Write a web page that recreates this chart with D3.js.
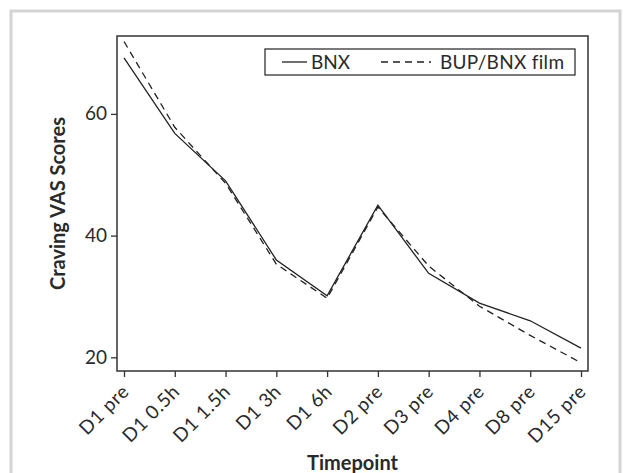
<!DOCTYPE html>
<html>
<head>
<meta charset="utf-8">
<script src="https://cdn.jsdelivr.net/npm/d3@7"></script>
<style>
  body { margin: 0; background: #fff; }
  text { font-family: Lato, "Open Sans", sans-serif; fill: #2a2a2a; }
</style>
</head>
<body>
<div id="chart"></div>
<script>
let timepoints = ["D1 pre", "D1 0.5h", "D1 1.5h", "D1 3h", "D1 6h", "D2 pre", "D3 pre", "D4 pre", "D8 pre", "D15 pre"]
let bnx = [69.2, 56.8, 49.0, 36.0, 30.1, 45.0, 33.8, 28.9, 26.0, 21.5]
let bupFilm = [71.9, 57.8, 48.6, 35.3, 29.7, 44.7, 35.0, 28.4, 23.6, 19.1]
let yTicks = [20, 40, 60]

// plot box in page pixels
var margin = {top: 36, right: 35, bottom: 102, left: 117},
    width = 623 - margin.left - margin.right,
    height = 473 - margin.top - margin.bottom;

var svg = d3.select("#chart")
  .append("svg")
    .attr("width", 623)
    .attr("height", 473)

// light grey outer frame
svg.append("rect")
  .attr("x", 11).attr("y", 11)
  .attr("width", 609).attr("height", 480)
  .attr("fill", "none")
  .attr("stroke", "#d4d4d4")
  .attr("stroke-width", 3)

var g = svg.append("g")
  .attr("transform", `translate(${margin.left}, ${margin.top})`)

var x = d3.scalePoint()
  .domain(timepoints)
  .range([7, width - 7])

var y = d3.scaleLinear()
  .domain([17.75, 72.8])
  .range([height, 0])

g.append("rect")
  .attr("width", width)
  .attr("height", height)
  .attr("fill", "none")
  .attr("stroke", "#333")
  .attr("stroke-width", 1.5)

let yAxis = g.append("g")
  .call(d3.axisLeft(y).tickValues(yTicks).tickSize(6).tickPadding(4))
yAxis.select(".domain").remove()
yAxis.selectAll("line").attr("stroke", "#333").attr("stroke-width", 1.3)
yAxis.selectAll("text").style("font-size", "19px").attr("fill", "#2a2a2a")

let xAxis = g.append("g")
  .attr("transform", `translate(0, ${height})`)
  .call(d3.axisBottom(x).tickSize(6).tickPadding(10))
xAxis.select(".domain").remove()
xAxis.selectAll("line").attr("stroke", "#333").attr("stroke-width", 1.3)
xAxis.selectAll("text")
  .style("font-size", "19px")
  .style("letter-spacing", "0.6px")
  .attr("fill", "#2a2a2a")
  .attr("text-anchor", "end")
  .attr("dy", "0.35em")
  .attr("transform", "translate(1,17) rotate(-45)")
  .attr("y", 0).attr("x", 0)

var line = d3.line()
  .x((d, i) => x(timepoints[i]))
  .y(d => y(d))

g.append("path")
  .datum(bupFilm)
  .attr("d", line)
  .attr("fill", "none")
  .attr("stroke", "#222")
  .attr("stroke-width", 1.3)
  .attr("stroke-dasharray", "7,5")

g.append("path")
  .datum(bnx)
  .attr("d", line)
  .attr("fill", "none")
  .attr("stroke", "#222")
  .attr("stroke-width", 1.3)

// legend
var legend = svg.append("g")
legend.append("rect")
  .attr("x", 265).attr("y", 49)
  .attr("width", 310).attr("height", 26)
  .attr("fill", "#fff")
  .attr("stroke", "#333")
  .attr("stroke-width", 1.3)
legend.append("line")
  .attr("x1", 282).attr("x2", 307).attr("y1", 62).attr("y2", 62)
  .attr("stroke", "#222").attr("stroke-width", 1.3)
legend.append("text")
  .attr("x", 311).attr("y", 62).attr("dy", "0.35em")
  .style("font-size", "19px")
  .text("BNX")
legend.append("line")
  .attr("x1", 381).attr("x2", 431).attr("y1", 62).attr("y2", 62)
  .attr("stroke", "#222").attr("stroke-width", 1.3)
  .attr("stroke-dasharray", "7,5")
legend.append("text")
  .attr("x", 440).attr("y", 62).attr("dy", "0.35em")
  .style("font-size", "19px")
  .style("letter-spacing", "0.3px")
  .text("BUP/BNX film")

// axis titles
svg.append("text")
  .attr("x", margin.left + width / 2)
  .attr("y", 463)
  .attr("dy", "0.35em")
  .attr("text-anchor", "middle")
  .style("font-size", "20px")
  .style("font-weight", "bold")
  .text("Timepoint")

svg.append("text")
  .attr("transform", `translate(58, ${margin.top + height / 2}) rotate(-90)`)
  .attr("dy", "0.35em")
  .attr("text-anchor", "middle")
  .style("font-size", "20px")
  .style("font-weight", "bold")
  .text("Craving VAS Scores")
</script>
</body>
</html>
